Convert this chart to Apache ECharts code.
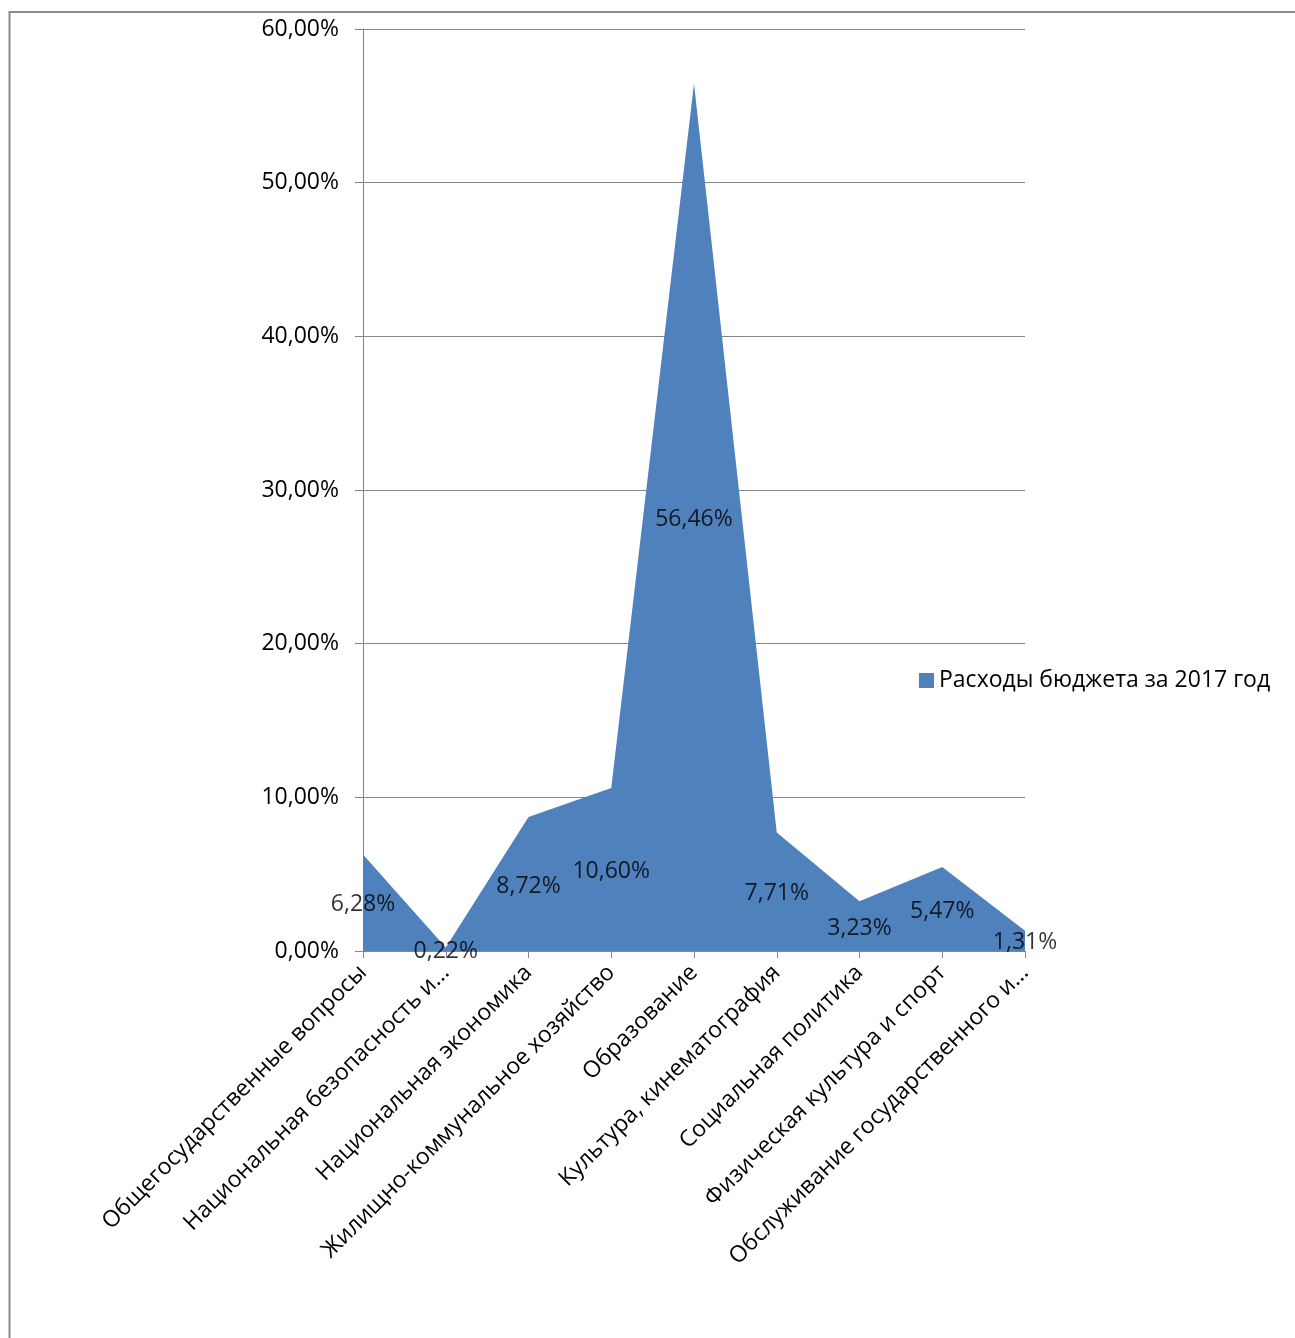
<!DOCTYPE html>
<html><head><meta charset="utf-8">
<script src="https://cdn.jsdelivr.net/npm/echarts@6/dist/echarts.min.js"></script>
<style>html,body{margin:0;padding:0;background:#fff}#c{width:1295px;height:1338px}</style>
</head><body><div id="c"></div>
<script>
const categories = [
  'Общегосударственные вопросы',
  'Национальная безопасность и...',
  'Национальная экономика',
  'Жилищно-коммунальное хозяйство',
  'Образование',
  'Культура, кинематография',
  'Социальная политика',
  'Физическая культура и спорт',
  'Обслуживание государственного и...'
];
const values = [6.28, 0.22, 8.72, 10.60, 56.46, 7.71, 3.23, 5.47, 1.31];
const seriesName = 'Расходы бюджета за 2017 год';
const yTicks = [0, 10, 20, 30, 40, 50, 60];

const FONT = 'Open Sans';
const FS = 23;
const fmt = v => v.toFixed(2).replace('.', ',') + '%';
const chart = echarts.init(document.getElementById('c'));
chart.setOption({
  animation: false,
  textStyle: { fontFamily: FONT },
  graphic: [{ type: 'rect', shape: { x: 9.5, y: 12, width: 1300, height: 1340 }, style: { fill: 'none', stroke: '#8c8c8c', lineWidth: 2 }, silent: true }],
  grid: { left: 363, right: 270, top: 29, bottom: 387, containLabel: false },
  legend: {
    data: [seriesName], orient: 'vertical', left: 914, top: 664,
    itemWidth: 15, itemHeight: 15, itemGap: 5, icon: 'rect',
    textStyle: { fontFamily: FONT, fontSize: FS, color: '#000' }
  },
  xAxis: {
    type: 'category', data: categories, boundaryGap: false,
    axisLine: { lineStyle: { color: '#868686', width: 1 } },
    axisTick: { show: true, alignWithLabel: true, interval: 0, length: 7, lineStyle: { color: '#868686' } },
    axisLabel: { interval: 0, rotate: 45, margin: 18, fontSize: FS, color: '#000', fontFamily: FONT }
  },
  yAxis: {
    type: 'value', min: 0, max: 60, interval: 10,
    axisLine: { show: true, lineStyle: { color: '#868686' } },
    axisTick: { show: true, length: 8, lineStyle: { color: '#868686' } },
    splitLine: { lineStyle: { color: '#868686' } },
    axisLabel: { fontSize: FS, color: '#000', margin: 24, fontFamily: FONT, formatter: v => yTicks.includes(v) ? fmt(v) : '' }
  },
  series: [
    {
      name: seriesName, type: 'line', data: values, symbol: 'none',
      lineStyle: { width: 0, color: '#4F81BD' }, itemStyle: { color: '#4F81BD' },
      areaStyle: { color: '#4F81BD', opacity: 1 }
    },
    {
      name: 'labels', type: 'scatter', data: values.map(v => v / 2), symbolSize: 2,
      itemStyle: { color: 'rgba(0,0,0,0)' }, silent: true, z: 5,
      label: { show: true, position: 'inside', offset: [0, 2], fontSize: FS, color: '#000', fontFamily: FONT,
        formatter: p => fmt(values[p.dataIndex]) }
    }
  ]
});
</script></body></html>
